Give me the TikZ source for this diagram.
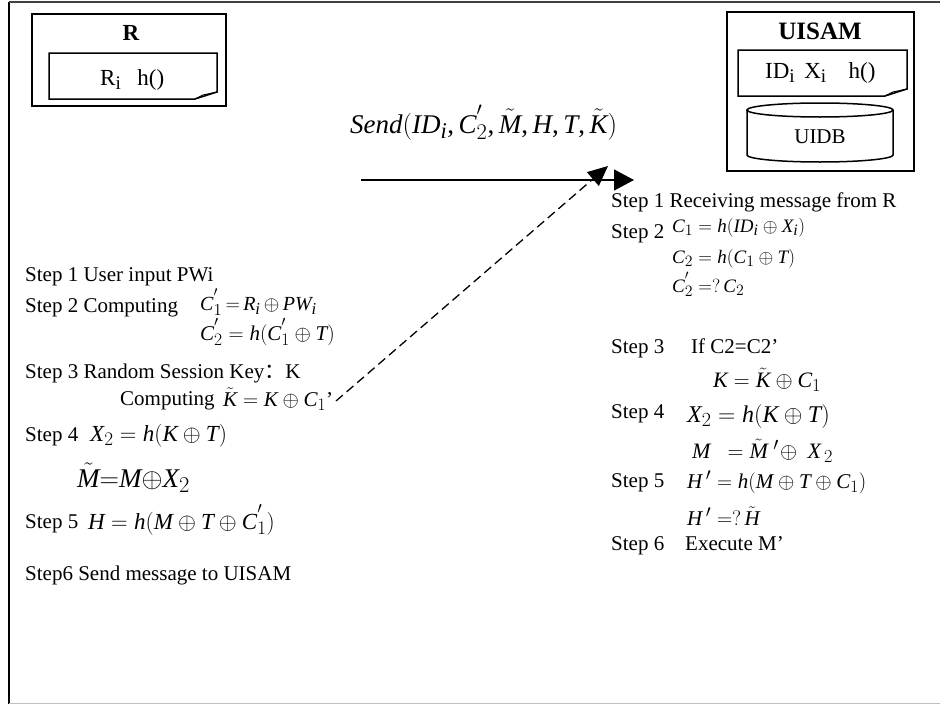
\documentclass[tikz,border=0pt]{standalone}
\usepackage{fix-cm}
\usepackage{fontspec}
\setmainfont{Liberation Serif}
\usepackage[italic]{mathastext}
\newfontfamily\cjk{Noto Sans CJK SC}
\usetikzlibrary{arrows.meta}
\newcommand\myfs[1]{\fontsize{#1}{#1}\selectfont}
\tikzset{
  txt/.style={anchor=base west, inner sep=0pt, font=\myfs{21}},
  frame/.style={draw, line width=1.5pt},
  blank/.style={inner sep=0pt, outer sep=0pt},
}
\begin{document}
\begin{tikzpicture}[x=1pt, y=-1pt]
\useasboundingbox (0,0) rectangle (940,704);
% outer frame
\draw[line width=2.2pt] (9,704) -- (9,2);
\draw[line width=1.8pt, black!75] (9,2) -- (941,2);
\draw[line width=1pt, black!25] (9,703.5) -- (941,703.5);

% ---------- R box ----------
\node[frame, blank, minimum width=194pt, minimum height=92pt] (Rbox) at (129,60) {};
\node[anchor=base, inner sep=0pt, font=\myfs{23}\bfseries] (Rlbl) at (131,40) {R};
\node[blank, minimum width=168pt, minimum height=46pt] (Rnote) at (133,76) {};
\draw[frame] (Rnote.north west) -- (Rnote.north east) -- ([yshift=7pt]Rnote.south east)
  -- ([xshift=-22pt]Rnote.south east) -- (Rnote.south west) -- cycle;
\draw[line width=1pt] ([yshift=7pt]Rnote.south east) -- ([xshift=-14pt,yshift=4pt]Rnote.south east)
  -- ([xshift=-22pt]Rnote.south east);
\node[txt, font=\myfs{23}] (Rtxt) at (100,85) {R\textsubscript{i}\hspace{16pt}h()};

% ---------- UISAM box ----------
\node[frame, blank, minimum width=187pt, minimum height=159pt] (Ubox) at (820.5,91.5) {};
\node[anchor=base, inner sep=0pt, font=\myfs{25}\bfseries] (Ulbl) at (820,39) {UISAM};
\node[blank, minimum width=169pt, minimum height=46pt] (Unote) at (822.5,73) {};
\draw[frame] (Unote.north west) -- (Unote.north east) -- ([yshift=7pt]Unote.south east)
  -- ([xshift=-22pt]Unote.south east) -- (Unote.south west) -- cycle;
\draw[line width=1pt] ([yshift=7pt]Unote.south east) -- ([xshift=-14pt,yshift=4pt]Unote.south east)
  -- ([xshift=-22pt]Unote.south east);
\node[txt, font=\myfs{23}] (Utxt) at (765,78) {ID\textsubscript{i}\hspace{9pt}X\textsubscript{i}\hspace{22pt}h()};
% cylinder
\draw[frame] (747,110) -- (747,155) arc[start angle=180, end angle=0, x radius=73, y radius=7] -- (893,110);
\draw[frame] (820,110) ellipse [x radius=73, y radius=7];
\node[anchor=base, inner sep=0pt, font=\myfs{21}] (UIDB) at (820,143) {UIDB};

% ---------- message ----------
\node[txt, font=\myfs{27}] (send) at (350,133) {$Send(ID_i,C_2^{'},\tilde M,H,T,\tilde K)$};
\coordinate (s1) at (361,180);
\coordinate (s2) at (634,180);
\draw[line width=1.5pt, -{Triangle[length=20pt,width=21pt]}] (s1) -- (s2);

% ---------- left side (R) ----------
\node[txt] (L1) at (25,281) {Step 1 User input PWi};
\node[txt] (L2) at (25,312) {Step 2 Computing};
\node[txt, font=\myfs{20}] (L2f) at (200,310) {$C_1^{'}\,{=}\,R_i\,{\oplus}\,PW_i$};
\node[txt] (L2g) at (200,340) {$C_2^{'} = h(C_1^{'} \oplus T)$};
\node[txt] (L3) at (25,378) {Step 3 Random Session Key{\cjk ：}K};
\node[txt] (L3b) at (120,405) {Computing};
\node[txt] (L3f) at (223,406) {$\tilde K = K \oplus C_1$’};
\node[txt] (L4) at (25,441) {Step 4};
\node[txt, font=\myfs{23}] (L4f) at (90,441) {$X_2 = h(K \oplus T)$};
\node[txt, font=\myfs{27}] (L4g) at (77,487) {$\tilde M{=}M{\oplus}X_2$};
\node[txt] (L5) at (25,528) {Step 5};
\node[txt, font=\myfs{23}] (L5f) at (88,529) {$H = h(M \oplus T \oplus C_1^{'})$};
\node[txt] (L6) at (25,580) {Step6 Send message to UISAM};

\coordinate (d1) at (336,401);
\coordinate (d2) at (608,166);
\draw[line width=1.3pt, dash pattern=on 9pt off 5pt, -{Triangle[length=20pt,width=18pt]}] (d1) -- (d2);

% ---------- right side (UISAM) ----------
\node[txt] (R1) at (611,207) {Step 1 Receiving message from R};
\node[txt] (R2) at (611,238) {Step 2};
\node[txt, font=\myfs{19}] (R2f) at (672,232) {$C_1 = h(ID_i \oplus X_i)$};
\node[txt, font=\myfs{19}] (R2g) at (672,263) {$C_2 = h(C_1 \oplus T)$};
\node[txt, font=\myfs{19}] (R2h) at (672,292) {$C_2^{'} = ?\,C_2$};
\node[txt] (R3) at (611,353) {Step 3};
\node[txt] (R3a) at (691,353) {If C2=C2’};
\node[txt, font=\myfs{22}] (R3f) at (713,387) {$K = \tilde K \oplus C_1$};
\node[txt] (R4) at (611,418) {Step 4};
\node[txt, font=\myfs{24}] (R4f) at (687,422) {$X_2 = h(K \oplus T)$};
\node[txt, font=\myfs{22}] (R4g) at (692,458) {$M\ \ = \tilde M\ '\!\oplus\ X_{\,2}$};
\node[txt] (R5) at (611,487) {Step 5};
\node[txt, font=\myfs{21}] (R5f) at (687,488) {$H\,' = h(M \oplus T \oplus C_1)$};
\node[txt, font=\myfs{21}] (R5g) at (687,525) {$H\,' = ?\,\tilde H$};
\node[txt] (R6) at (611,550) {Step 6};
\node[txt] (R6a) at (685,550) {Execute M’};
\end{tikzpicture}
\end{document}
